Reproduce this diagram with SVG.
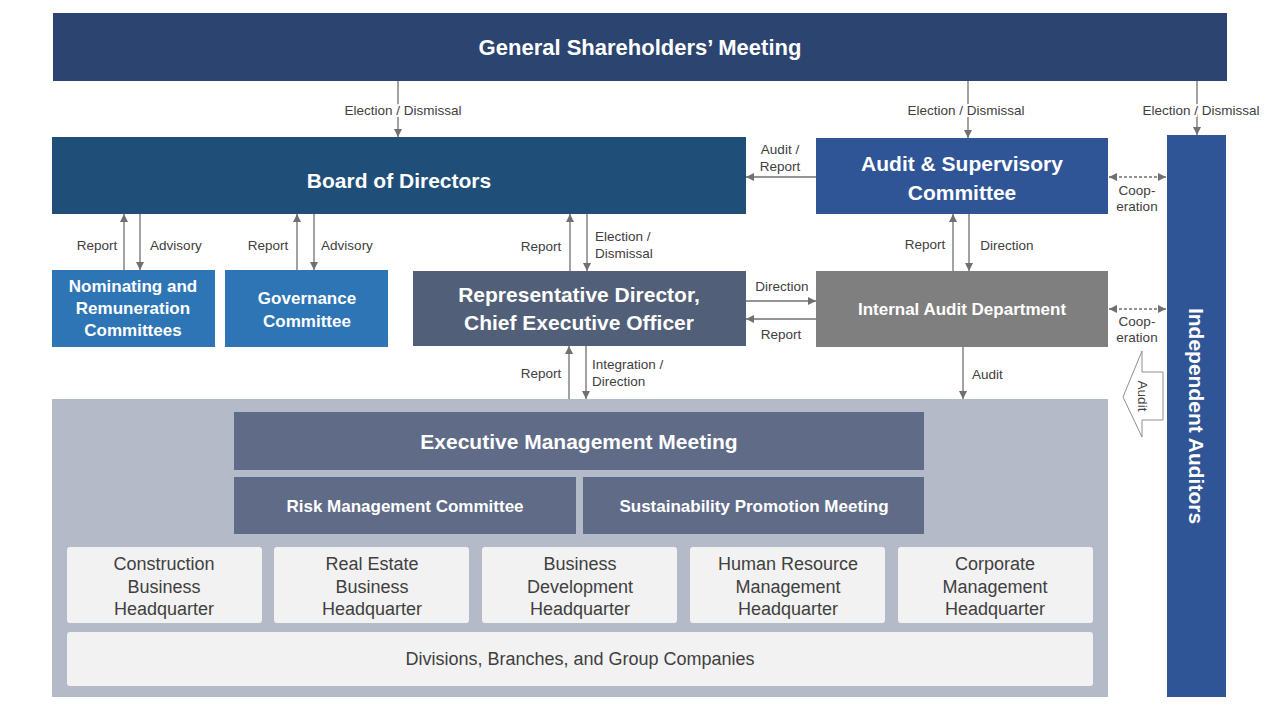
<svg xmlns="http://www.w3.org/2000/svg" width="1280" height="720" viewBox="0 0 1280 720">
<defs>
<marker id="ah" viewBox="0 0 10 10" refX="10" refY="5" markerWidth="8" markerHeight="8" markerUnits="userSpaceOnUse" orient="auto-start-reverse"><path d="M0,0 L10,5 L0,10 z" fill="#707070"/></marker>
</defs>
<style>
text{font-family:"Liberation Sans",Arial,sans-serif}
.t{fill:#fff;font-weight:bold;text-anchor:middle}
.l{fill:#404040;font-size:13.5px}
.c{text-anchor:middle}
.lt{fill:#404040;font-size:18px;text-anchor:middle}
.ln{stroke:#707070;stroke-width:1.3;fill:none;marker-end:url(#ah)}
.dl{stroke:#707070;stroke-width:1.3;fill:none;stroke-dasharray:3 2;marker-end:url(#ah);marker-start:url(#ah)}
.bg{paint-order:stroke;stroke:#fff;stroke-width:4px}
</style>
<rect width="1280" height="720" fill="#fff"/>
<g id="gsm"><rect x="53" y="13" width="1174" height="68" fill="#2b4470"/><text class="t" x="640" y="55" font-size="22">General Shareholders’ Meeting</text></g>
<g id="board"><rect x="52" y="137" width="694" height="77" fill="#1f4e79"/><text class="t" x="399" y="188" font-size="21">Board of Directors</text></g>
<g id="asc"><rect x="816" y="138" width="292" height="76" fill="#2f5597"/><text class="t" x="962" y="171" font-size="21">Audit &amp; Supervisory</text><text class="t" x="962" y="200" font-size="21">Committee</text></g>
<g id="ia"><rect x="1167" y="135" width="59" height="562" fill="#2f5597"/><text class="t" font-size="21" transform="translate(1189,416) rotate(90)">Independent Auditors</text></g>
<g id="nrc"><rect x="52" y="270" width="163" height="77" fill="#2e75b6"/><text class="t" x="133" y="292" font-size="17">Nominating and</text><text class="t" x="133" y="314" font-size="17">Remuneration</text><text class="t" x="133" y="336" font-size="17">Committees</text></g>
<g id="gov"><rect x="225" y="270" width="163" height="77" fill="#2e75b6"/><text class="t" x="307" y="304" font-size="17">Governance</text><text class="t" x="307" y="327" font-size="17">Committee</text></g>
<g id="rep"><rect x="413" y="271" width="333" height="75" fill="#525f78"/><text class="t" x="579" y="302" font-size="21">Representative Director,</text><text class="t" x="579" y="330" font-size="21">Chief Executive Officer</text></g>
<g id="iad"><rect x="816" y="271" width="292" height="76" fill="#7f7f7f"/><text class="t" x="962" y="315" font-size="17">Internal Audit Department</text></g>
<g id="panel"><rect x="52" y="399" width="1056" height="298" fill="#b4bac8"/></g>
<g id="emm"><rect x="234" y="412" width="690" height="58" fill="#5f6b87"/><text class="t" x="579" y="449" font-size="21">Executive Management Meeting</text></g>
<g id="rmc"><rect x="234" y="477" width="342" height="57" fill="#5f6b87"/><text class="t" x="405" y="512" font-size="17">Risk Management Committee</text></g>
<g id="spm"><rect x="583" y="477" width="341" height="57" fill="#5f6b87"/><text class="t" x="754" y="512" font-size="17">Sustainability Promotion Meeting</text></g>
<g id="hq1"><rect x="67" y="547" width="195" height="76" rx="3" fill="#f2f2f2"/><text class="lt" x="164" y="570">Construction</text><text class="lt" x="164" y="593">Business</text><text class="lt" x="164" y="615">Headquarter</text></g>
<g id="hq2"><rect x="274" y="547" width="195" height="76" rx="3" fill="#f2f2f2"/><text class="lt" x="372" y="570">Real Estate</text><text class="lt" x="372" y="593">Business</text><text class="lt" x="372" y="615">Headquarter</text></g>
<g id="hq3"><rect x="482" y="547" width="195" height="76" rx="3" fill="#f2f2f2"/><text class="lt" x="580" y="570">Business</text><text class="lt" x="580" y="593">Development</text><text class="lt" x="580" y="615">Headquarter</text></g>
<g id="hq4"><rect x="690" y="547" width="195" height="76" rx="3" fill="#f2f2f2"/><text class="lt" x="788" y="570">Human Resource</text><text class="lt" x="788" y="593">Management</text><text class="lt" x="788" y="615">Headquarter</text></g>
<g id="hq5"><rect x="898" y="547" width="195" height="76" rx="3" fill="#f2f2f2"/><text class="lt" x="995" y="570">Corporate</text><text class="lt" x="995" y="593">Management</text><text class="lt" x="995" y="615">Headquarter</text></g>
<g id="div"><rect x="67" y="632" width="1026" height="54" rx="3" fill="#f2f2f2"/><text class="lt" x="580" y="665">Divisions, Branches, and Group Companies</text></g>
<g id="connectors">
<path class="ln" d="M398,81 V137"/><path class="ln" d="M968,81 V138"/><path class="ln" d="M1197,81 V135"/>
<text class="l c bg" x="403" y="115">Election / Dismissal</text>
<text class="l c bg" x="966" y="115">Election / Dismissal</text>
<text class="l c bg" x="1201" y="115">Election / Dismissal</text>
<path class="ln" d="M816,177 H746"/><text class="l c" x="780" y="154">Audit /</text><text class="l c" x="780" y="171">Report</text>
<path class="dl" d="M1109,177 H1166"/><text class="l c" x="1137" y="195">Coop-</text><text class="l c" x="1137" y="211">eration</text>
<path class="dl" d="M1109,309 H1166"/><text class="l c" x="1137" y="326">Coop-</text><text class="l c" x="1137" y="342">eration</text>
<path class="ln" d="M124,270 V214"/><path class="ln" d="M140,214 V270"/><text class="l c" x="97" y="250">Report</text><text class="l c" x="176" y="250">Advisory</text>
<path class="ln" d="M297,270 V214"/><path class="ln" d="M314,214 V270"/><text class="l c" x="268" y="250">Report</text><text class="l c" x="347" y="250">Advisory</text>
<path class="ln" d="M570,271 V214"/><path class="ln" d="M587,214 V271"/><text class="l c" x="541" y="251">Report</text><text class="l" x="595" y="241">Election /</text><text class="l" x="595" y="258">Dismissal</text>
<path class="ln" d="M953,271 V214"/><path class="ln" d="M969,214 V271"/><text class="l c" x="925" y="249">Report</text><text class="l c" x="1007" y="250">Direction</text>
<path class="ln" d="M746,301 H816"/><path class="ln" d="M816,319 H746"/><text class="l c" x="782" y="291">Direction</text><text class="l c" x="781" y="339">Report</text>
<path class="ln" d="M569,399 V346"/><path class="ln" d="M586,346 V399"/><text class="l c" x="541" y="378">Report</text><text class="l" x="592" y="369">Integration /</text><text class="l" x="592" y="386">Direction</text>
<path class="ln" d="M963,347 V399"/><text class="l" x="972" y="379">Audit</text>
<path d="M1123,397 L1142,351 V372 H1163 V420 H1142 V437 Z" fill="#fff" stroke="#909090" stroke-width="1"/>
<text class="l c" font-size="13" transform="translate(1138,396) rotate(90)">Audit</text>
</g>
</svg>
